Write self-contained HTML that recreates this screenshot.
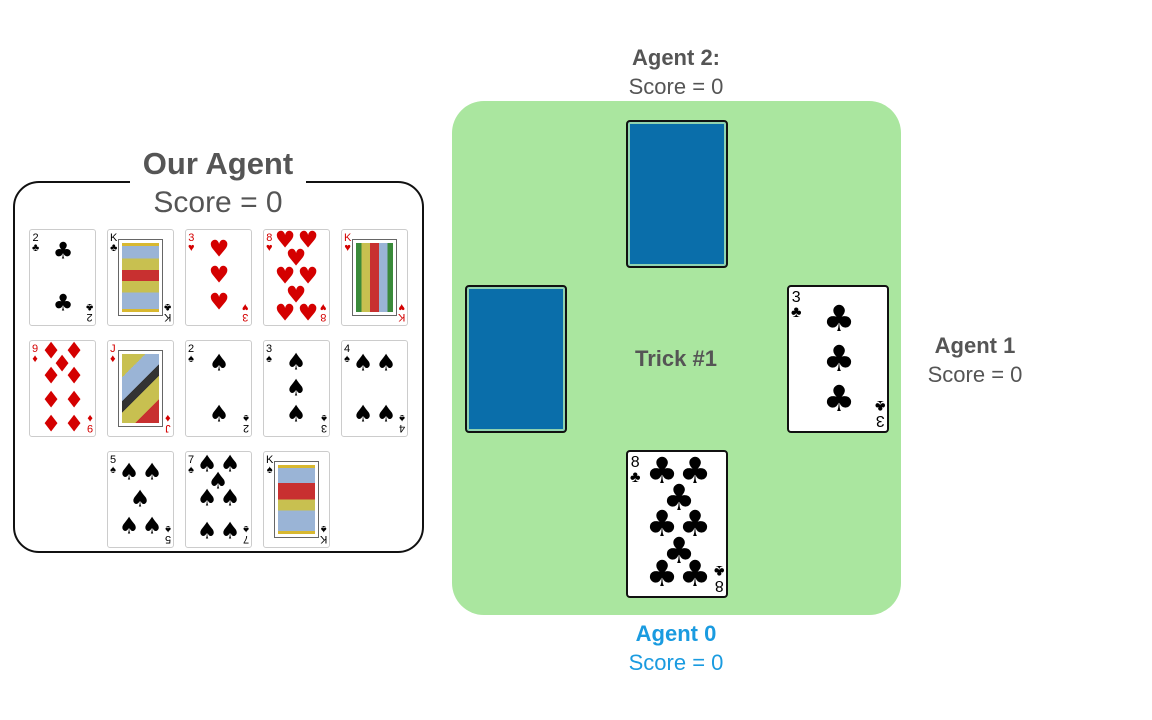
<!DOCTYPE html>
<html><head><meta charset="utf-8">
<style>
body{margin:0;width:1152px;height:720px;background:#fff;position:relative;overflow:hidden;font-family:"Liberation Sans","DejaVu Sans",sans-serif}
.a{position:absolute}
.lbl{position:absolute;text-align:center;color:#555;font-size:22px;line-height:29px;width:200px}
.card{position:absolute;width:67px;height:97px;background:#fff;border:1px solid #ccc;border-radius:3px;box-sizing:border-box;overflow:hidden}
.card i{position:absolute;font-style:normal;transform:translate(-50%,-50%);font-size:23px;line-height:1;font-family:"DejaVu Sans",sans-serif}
.card b{position:absolute;font-weight:normal;font-size:11px;line-height:10px;text-align:center;font-family:"Liberation Sans",sans-serif}
.card b.tl{left:2px;top:3px}
.card b.br{right:2px;bottom:3px;transform:rotate(180deg)}
.r{color:#d40000}.k{color:#000}
.face{position:absolute;left:10px;top:9px;right:10px;bottom:9px;border:1px solid #666;background:linear-gradient(180deg,#d8b830 0 8%,#9ab4d6 8% 25%,#c8c050 25% 40%,#c83030 40% 55%,#c8c050 55% 70%,#9ab4d6 70% 92%,#d8b830 92%);box-shadow:inset 0 0 0 3px #fff}
.big{width:102px;height:148px;border:2px solid #111;border-radius:4px}
.big i{font-size:36px}
.big b{font-size:16px;line-height:15px}
.back{position:absolute;width:102px;height:148px;border:2px solid #111;border-radius:4px;box-sizing:border-box;background:#0a6eaa;box-shadow:inset 0 0 0 2px #8fd3b0}
</style></head><body>

<div class="a" style="left:13px;top:181px;width:411px;height:372px;border:2px solid #111;border-radius:26px;box-sizing:border-box"></div>
<div class="a" style="left:130px;top:145px;width:176px;height:40px;background:#fff"></div>
<div class="a" style="left:68px;top:145px;width:300px;text-align:center;font-weight:bold;font-size:31px;color:#555;line-height:38px">Our Agent</div>
<div class="a" style="left:68px;top:184px;width:300px;text-align:center;font-size:30px;color:#555;line-height:38px">Score = 0</div>

<div class="card k" style="left:29px;top:229px"><b class="tl">2<br>♣</b><b class="br">2<br>♣</b><i style="left:33px;top:22px">♣</i><i style="left:33px;top:74px">♣</i></div>
<div class="card k" style="left:107px;top:229px"><b class="tl">K<br>♣</b><b class="br">K<br>♣</b><div class="face"></div></div>
<div class="card r" style="left:185px;top:229px"><b class="tl">3<br>♥</b><b class="br">3<br>♥</b><i style="left:33px;top:20px">♥</i><i style="left:33px;top:46px">♥</i><i style="left:33px;top:73px">♥</i></div>
<div class="card r" style="left:263px;top:229px"><b class="tl">8<br>♥</b><b class="br">8<br>♥</b><i style="left:21px;top:11px">♥</i><i style="left:44px;top:11px">♥</i><i style="left:32px;top:29px">♥</i><i style="left:21px;top:47px">♥</i><i style="left:44px;top:47px">♥</i><i style="left:32px;top:66px">♥</i><i style="left:21px;top:84px">♥</i><i style="left:44px;top:84px">♥</i></div>
<div class="card r" style="left:341px;top:229px"><b class="tl">K<br>♥</b><b class="br">K<br>♥</b><div class="face" style="background:linear-gradient(90deg,#3a8a3a 0 20%,#c8c050 20% 40%,#c83030 40% 60%,#9ab4d6 60% 80%,#3a8a3a 80%)"></div></div>

<div class="card r" style="left:29px;top:340px"><b class="tl">9<br>♦</b><b class="br">9<br>♦</b><i style="left:21px;top:11px">♦</i><i style="left:44px;top:11px">♦</i><i style="left:32px;top:24px">♦</i><i style="left:21px;top:36px">♦</i><i style="left:44px;top:36px">♦</i><i style="left:21px;top:60px">♦</i><i style="left:44px;top:60px">♦</i><i style="left:21px;top:84px">♦</i><i style="left:44px;top:84px">♦</i></div>
<div class="card r" style="left:107px;top:340px"><b class="tl">J<br>♦</b><b class="br">J<br>♦</b><div class="face" style="background:linear-gradient(135deg,#c8c050 0 25%,#9ab4d6 25% 45%,#333 45% 55%,#c8c050 55% 75%,#c83030 75%)"></div></div>
<div class="card k" style="left:185px;top:340px"><b class="tl">2<br>♠</b><b class="br">2<br>♠</b><i style="left:33px;top:23px">♠</i><i style="left:33px;top:74px">♠</i></div>
<div class="card k" style="left:263px;top:340px"><b class="tl">3<br>♠</b><b class="br">3<br>♠</b><i style="left:32px;top:22px">♠</i><i style="left:32px;top:48px">♠</i><i style="left:32px;top:74px">♠</i></div>
<div class="card k" style="left:341px;top:340px"><b class="tl">4<br>♠</b><b class="br">4<br>♠</b><i style="left:21px;top:23px">♠</i><i style="left:44px;top:23px">♠</i><i style="left:21px;top:74px">♠</i><i style="left:44px;top:74px">♠</i></div>

<div class="card k" style="left:107px;top:451px"><b class="tl">5<br>♠</b><b class="br">5<br>♠</b><i style="left:21px;top:21px">♠</i><i style="left:44px;top:21px">♠</i><i style="left:32px;top:48px">♠</i><i style="left:21px;top:75px">♠</i><i style="left:44px;top:75px">♠</i></div>
<div class="card k" style="left:185px;top:451px"><b class="tl">7<br>♠</b><b class="br">7<br>♠</b><i style="left:21px;top:13px">♠</i><i style="left:44px;top:13px">♠</i><i style="left:32px;top:30px">♠</i><i style="left:21px;top:47px">♠</i><i style="left:44px;top:47px">♠</i><i style="left:21px;top:80px">♠</i><i style="left:44px;top:80px">♠</i></div>
<div class="card k" style="left:263px;top:451px"><b class="tl">K<br>♠</b><b class="br">K<br>♠</b><div class="face" style="background:linear-gradient(180deg,#d8b830 0 8%,#9ab4d6 8% 28%,#c83030 28% 50%,#c8c050 50% 65%,#9ab4d6 65% 92%,#d8b830 92%)"></div></div>

<div class="a" style="left:452px;top:101px;width:449px;height:514px;background:#aae69f;border-radius:32px"></div>
<div class="back" style="left:626px;top:120px"></div>
<div class="back" style="left:465px;top:285px"></div>
<div class="card big k" style="left:787px;top:285px"><b class="tl">3<br>♣</b><b class="br">3<br>♣</b><i style="left:50px;top:33px">♣</i><i style="left:50px;top:73px">♣</i><i style="left:50px;top:113px">♣</i></div>
<div class="card big k" style="left:626px;top:450px"><b class="tl">8<br>♣</b><b class="br">8<br>♣</b><i style="left:34px;top:20px">♣</i><i style="left:67px;top:20px">♣</i><i style="left:51px;top:47px">♣</i><i style="left:34px;top:73px">♣</i><i style="left:67px;top:73px">♣</i><i style="left:51px;top:100px">♣</i><i style="left:34px;top:123px">♣</i><i style="left:67px;top:123px">♣</i></div>
<div class="lbl" style="left:576px;top:344px;font-weight:bold;font-size:22px">Trick #1</div>

<div class="lbl" style="left:576px;top:43px"><b>Agent 2:</b><br>Score = 0</div>
<div class="lbl" style="left:875px;top:331px"><b>Agent 1</b><br>Score = 0</div>
<div class="lbl" style="left:576px;top:619px;color:#1a9be0"><b>Agent 0</b><br>Score = 0</div>
</body></html>
